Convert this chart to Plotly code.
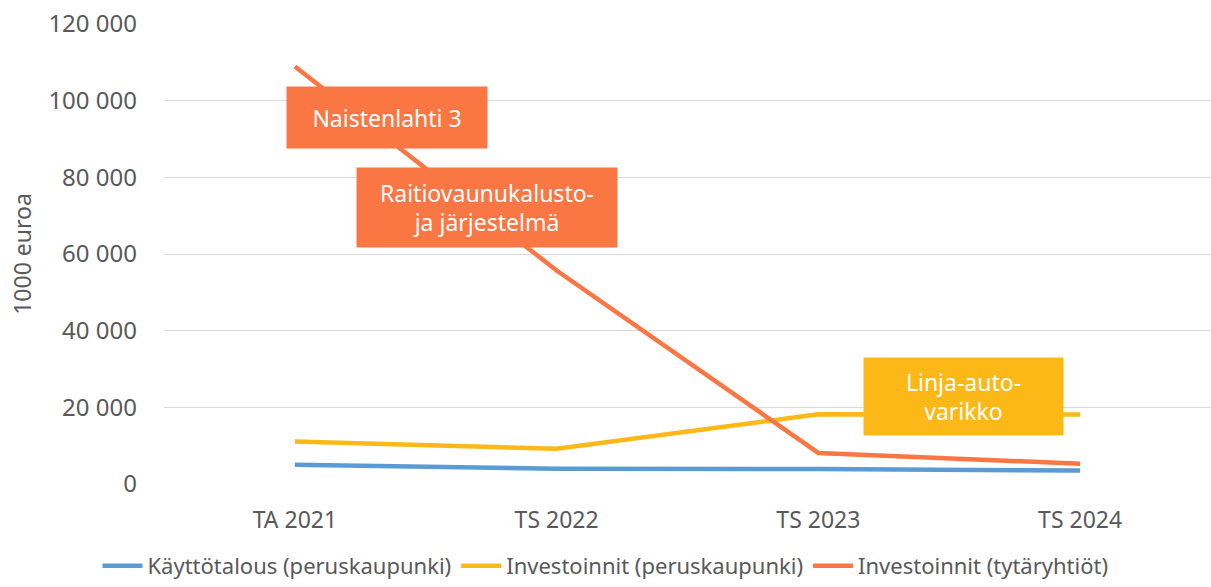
import plotly.graph_objects as go

categories = ["TA 2021", "TS 2022", "TS 2023", "TS 2024"]
kayttotalous = [5000, 4000, 3900, 3500]
investoinnit_perus = [11100, 9200, 18200, 18100]
investoinnit_tytar = [108900, 55700, 8100, 5300]

series_names = ["Käyttötalous (peruskaupunki)", "Investoinnit (peruskaupunki)", "Investoinnit (tytäryhtiöt)"]
colors = ["#5B9BD5", "#FBB817", "#FA7643"]

y_ticks = [0, 20000, 40000, 60000, 80000, 100000, 120000]
y_tick_labels = ["0", "20 000", "40 000", "60 000", "80 000", "100 000", "120 000"]

FONT = "Noto Sans"
GRAY = "#595959"

fig = go.Figure()
for name, vals, col in zip(series_names, [kayttotalous, investoinnit_perus, investoinnit_tytar], colors):
    fig.add_trace(go.Scatter(x=categories, y=vals, name=name, mode="lines",
                             line=dict(color=col, width=4.5)))

def box(text, x, y, w, h, color):
    fig.add_annotation(text=text, xref="paper", yref="y", x=x, y=y, showarrow=False,
                       width=w, height=h, bgcolor=color, borderpad=0,
                       font=dict(family=FONT, size=23, color="white"), align="center",
                       xanchor="center", yanchor="middle")

box("Naistenlahti 3", 0.213, 95700, 200, 61, colors[2])
box("Raitiovaunukalusto-<br>ja järjestelmä", 0.3085, 72200, 260, 79, colors[2])
box("Linja-auto-<br>varikko", 0.7636, 22700, 199, 77, colors[1])

fig.update_layout(
    width=1211, height=587,
    margin=dict(l=164, r=0, t=24, b=103, autoexpand=False),
    plot_bgcolor="white", paper_bgcolor="white",
    font=dict(family=FONT, color=GRAY, size=23),
    showlegend=True,
    legend=dict(orientation="h", x=0.5, xanchor="center", xref="container",
                y=-0.012, yref="container", yanchor="bottom",
                font=dict(size=22, color=GRAY), itemwidth=40, tracegroupgap=0,
                traceorder="normal"),
    xaxis=dict(type="category", range=[-0.5, 3.5], showgrid=False, showline=False,
               ticks="", ticklabelstandoff=20, tickfont=dict(size=23, color=GRAY)),
    yaxis=dict(range=[0, 120000], tickvals=y_ticks, ticktext=y_tick_labels,
               showgrid=True, gridcolor="#D9D9D9", gridwidth=1.3, zeroline=False,
               showline=False, ticks="", ticklabelstandoff=26,
               tickfont=dict(size=24, color=GRAY),
               title=dict(text="1000 euroa", font=dict(size=23, color=GRAY), standoff=10)),
)

fig.write_html("out.html", config={"displayModeBar": False},
               post_script="document.body.style.margin='0';document.body.style.overflow='hidden';")
